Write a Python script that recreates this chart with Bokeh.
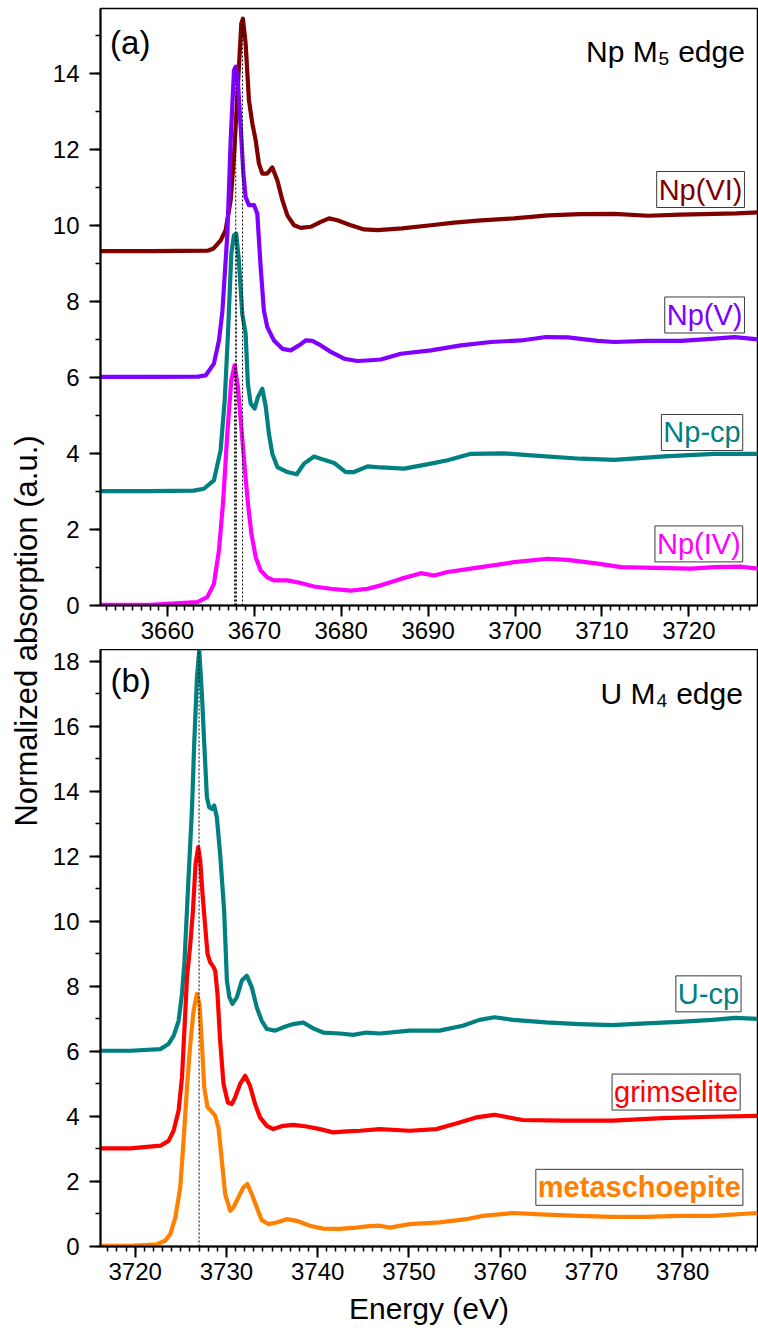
import math
from bokeh.plotting import figure
from bokeh.models import Range1d, Label, SingleIntervalTicker, FixedTicker
from bokeh.layouts import row, column
from bokeh.embed import file_html
from bokeh.resources import INLINE

FONT = "Liberation Sans"

# ---------------- Panel (a): Np M5 edge ----------------
np6_E = [3652.0, 3658.06, 3664.63, 3665.32, 3666.13, 3666.70, 3667.28, 3667.66, 3668.12, 3668.50,
         3668.69, 3669.0, 3669.38, 3669.77, 3670.15, 3670.53, 3670.92, 3671.49, 3672.07, 3672.65,
         3673.23, 3673.80, 3674.57, 3675.34, 3676.49, 3677.65, 3678.60, 3679.56, 3681.10, 3682.63,
         3684.17, 3687.0, 3690.32, 3693.0, 3696.08, 3699.88, 3703.80, 3707.5, 3711.40, 3715.32,
         3719.0, 3722.92, 3725.5, 3728.0]
np6_y = [9.32, 9.32, 9.33, 9.39, 9.6, 9.87, 10.66, 11.8, 13.7, 15.3,
         15.43, 14.78, 13.29, 12.68, 12.24, 11.62, 11.36, 11.36, 11.52, 11.18,
         10.66, 10.26, 10.0, 9.93, 9.96, 10.09, 10.18, 10.13, 10.0, 9.89,
         9.87, 9.92, 10.0, 10.07, 10.13, 10.18, 10.26, 10.29, 10.3, 10.25,
         10.28, 10.3, 10.31, 10.34]

np5_E = [3652.0, 3658.0, 3663.5, 3664.40, 3665.35, 3665.93, 3666.32, 3666.90, 3667.28, 3667.66,
         3667.86, 3668.12, 3668.43, 3668.74, 3669.0, 3669.38, 3669.96, 3670.34, 3670.73, 3671.10,
         3671.49, 3672.26, 3673.23, 3674.19, 3675.14, 3675.91, 3676.68, 3677.65, 3678.80, 3680.33,
         3681.86, 3683.41, 3684.56, 3686.86, 3690.32, 3693.77, 3697.23, 3700.69, 3703.57, 3706.07,
         3709.52, 3711.43, 3715.28, 3719.12, 3722.96, 3725.26, 3727.96]
np5_y = [6.01, 6.01, 6.02, 6.05, 6.36, 6.97, 7.72, 9.78, 12.24, 14.08,
         14.17, 13.73, 12.59, 11.36, 10.74, 10.53, 10.53, 10.31, 8.9, 7.76,
         7.32, 6.97, 6.75, 6.71, 6.84, 6.97, 6.96, 6.84, 6.67, 6.49,
         6.43, 6.45, 6.47, 6.62, 6.71, 6.84, 6.93, 6.97, 7.06, 7.05,
         6.96, 6.93, 6.96, 6.96, 7.02, 7.06, 7.0]

npcp_E = [3652.0, 3658.0, 3663.0, 3664.20, 3665.35, 3666.12, 3666.59, 3666.97, 3667.35, 3667.66,
          3667.92, 3668.22, 3668.61, 3669.0, 3669.26, 3669.58, 3670.04, 3670.41, 3670.92, 3671.31,
          3671.68, 3672.07, 3672.65, 3673.80, 3674.88, 3675.72, 3676.87, 3678.02, 3679.18, 3680.52,
          3681.48, 3683.03, 3684.56, 3687.24, 3690.32, 3692.24, 3694.93, 3698.76, 3701.84, 3707.60,
          3711.44, 3717.19, 3722.96, 3727.96]
npcp_y = [3.01, 3.01, 3.02, 3.07, 3.29, 4.08, 5.39, 7.15, 9.25, 9.74,
          9.78, 9.08, 7.67, 7.15, 5.83, 5.31, 5.18, 5.48, 5.7, 5.24,
          4.52, 3.99, 3.64, 3.51, 3.45, 3.73, 3.92, 3.83, 3.75, 3.51,
          3.51, 3.66, 3.63, 3.6, 3.73, 3.82, 3.99, 4.0, 3.95, 3.86,
          3.83, 3.92, 3.99, 3.99]

np4_E = [3652.0, 3658.0, 3663.44, 3664.59, 3665.35, 3665.93, 3666.42, 3666.89, 3667.35, 3667.73,
         3668.11, 3668.50, 3668.89, 3669.27, 3669.66, 3670.16, 3670.73, 3671.50, 3672.26, 3673.80,
         3675.34, 3676.87, 3678.80, 3681.10, 3683.03, 3684.56, 3686.86, 3689.17, 3690.70, 3692.24,
         3696.08, 3699.90, 3703.75, 3706.06, 3709.52, 3712.21, 3716.04, 3720.27, 3722.96, 3726.03,
         3727.96]
np4_y = [0.02, 0.02, 0.09, 0.22, 0.57, 1.45, 2.76, 4.52, 5.92, 6.32,
         5.75, 4.69, 3.64, 2.68, 1.89, 1.27, 0.92, 0.74, 0.66, 0.66,
         0.59, 0.5, 0.44, 0.39, 0.44, 0.53, 0.7, 0.85, 0.79, 0.88,
         1.01, 1.14, 1.23, 1.2, 1.1, 1.01, 0.99, 0.97, 1.01, 1.02,
         0.97]

np_peak_E = [3667.73, 3667.86, 3667.92, 3668.65]
np_peak_y = [6.32, 14.17, 9.78, 15.43]

# ---------------- Panel (b): U M4 edge ----------------
ucp_E = [3716.0, 3719.48, 3722.76, 3723.66, 3724.21, 3724.76, 3725.13, 3725.41, 3725.85, 3726.22,
         3726.47, 3726.77, 3727.02, 3727.31, 3727.57, 3727.86, 3728.11, 3728.41, 3728.66, 3728.95,
         3729.31, 3729.75, 3730.05, 3730.33, 3730.66, 3731.14, 3731.69, 3732.23, 3732.78, 3733.33,
         3733.87, 3734.42, 3735.33, 3736.23, 3737.33, 3738.42, 3739.51, 3740.60, 3742.43, 3743.88,
         3745.35, 3746.80, 3750.08, 3753.36, 3755.91, 3757.73, 3759.37, 3761.37, 3765.02, 3768.66,
         3772.30, 3775.95, 3779.59, 3783.23, 3785.79, 3788.2]
ucp_y = [6.02, 6.02, 6.07, 6.23, 6.48, 6.94, 7.77, 8.79, 11.35, 13.41,
         15.46, 17.5, 18.33, 17.0, 15.46, 13.82, 13.51, 13.46, 13.56, 13.2,
         12.07, 10.33, 8.18, 7.66, 7.46, 7.66, 8.18, 8.33, 7.97, 7.35,
         6.94, 6.69, 6.64, 6.74, 6.84, 6.89, 6.71, 6.58, 6.55, 6.51,
         6.58, 6.55, 6.64, 6.64, 6.79, 6.97, 7.05, 6.97, 6.89, 6.84,
         6.81, 6.86, 6.91, 6.97, 7.03, 7.0]

grim_E = [3716.0, 3719.5, 3722.76, 3723.66, 3724.21, 3724.76, 3725.13, 3725.41, 3725.68, 3726.04,
          3726.33, 3726.62, 3726.91, 3727.13, 3727.38, 3727.68, 3727.93, 3728.22, 3728.58, 3728.77,
          3729.02, 3729.31, 3729.68, 3730.16, 3730.59, 3730.95, 3731.50, 3732.05, 3732.59, 3733.14,
          3733.69, 3734.42, 3735.14, 3736.23, 3737.33, 3738.79, 3740.24, 3741.70, 3743.16, 3744.62,
          3746.80, 3750.08, 3753.0, 3755.18, 3757.37, 3759.37, 3762.46, 3766.83, 3772.30, 3777.76,
          3783.23, 3788.2]
grim_y = [3.02, 3.02, 3.1, 3.25, 3.56, 4.18, 5.2, 6.74, 8.28, 9.3,
          10.33, 11.77, 12.28, 11.87, 10.84, 9.82, 9.0, 8.74, 8.6, 8.48,
          7.77, 6.33, 5.0, 4.43, 4.38, 4.58, 5.0, 5.25, 4.94, 4.38,
          3.97, 3.71, 3.61, 3.71, 3.74, 3.69, 3.61, 3.51, 3.54, 3.56,
          3.61, 3.56, 3.61, 3.78, 3.97, 4.05, 3.89, 3.87, 3.87, 3.95,
          3.99, 4.02]

meta_E = [3716.0, 3719.5, 3722.40, 3723.30, 3723.85, 3724.40, 3724.94, 3725.30, 3725.68, 3726.04,
          3726.40, 3726.77, 3727.05, 3727.31, 3727.57, 3727.93, 3728.30, 3728.77, 3729.13, 3729.50,
          3729.86, 3730.41, 3730.77, 3731.31, 3731.86, 3732.30, 3732.78, 3733.33, 3733.87, 3734.59,
          3735.51, 3736.60, 3737.70, 3739.15, 3740.60, 3742.43, 3743.88, 3745.35, 3746.80, 3747.89,
          3750.08, 3753.36, 3756.28, 3758.09, 3761.37, 3765.02, 3768.66, 3772.30, 3775.95, 3779.59,
          3783.23, 3788.2]
meta_y = [0.02, 0.02, 0.07, 0.18, 0.38, 0.89, 1.82, 3.25, 4.89, 6.23,
          7.25, 7.77, 7.46, 6.23, 4.89, 4.28, 4.18, 4.02, 3.66, 2.64,
          1.61, 1.1, 1.2, 1.51, 1.82, 1.92, 1.61, 1.2, 0.81, 0.69,
          0.74, 0.84, 0.79, 0.64, 0.55, 0.54, 0.57, 0.62, 0.64, 0.58,
          0.69, 0.74, 0.84, 0.94, 1.03, 0.98, 0.94, 0.91, 0.91, 0.94,
          0.94, 1.03]

u_peak_E = [3727.0]
u_peak_y = [18.4]

X_TICK_STEP = 10
Y_TICK_STEP = 2
LW = 4.2


def style(p):
    p.xaxis.ticker = SingleIntervalTicker(interval=X_TICK_STEP, num_minor_ticks=10)
    p.yaxis.ticker = SingleIntervalTicker(interval=Y_TICK_STEP, num_minor_ticks=2)
    for ax in p.axis:
        ax.axis_line_width = 2
        ax.axis_line_color = "black"
        ax.major_tick_line_width = 2
        ax.minor_tick_line_width = 1.5
        ax.major_tick_line_color = "black"
        ax.minor_tick_line_color = "black"
        ax.major_tick_out = 11
        ax.major_tick_in = 0
        ax.minor_tick_out = 5
        ax.minor_tick_in = 0
        ax.major_label_text_font = FONT
        ax.major_label_text_font_size = "24px"
        ax.major_label_text_color = "black"
    p.xaxis.major_label_standoff = 5
    p.yaxis.major_label_standoff = 10
    p.xgrid.visible = False
    p.ygrid.visible = False
    p.outline_line_color = "black"
    p.outline_line_width = 1.5
    p.background_fill_color = "white"
    p.border_fill_color = "white"


def tag(p, x, y, text, color, bold=False):
    p.add_layout(Label(x=x, y=y, text=text, text_align="right", text_baseline="middle",
                       text_font=FONT, text_font_size="29px", text_color=color,
                       text_font_style="bold" if bold else "normal",
                       border_line_color="#3a3a3a", border_line_width=1,
                       background_fill_color="white", padding=2))


def plain(p, x, y, text, size, align="left", baseline="alphabetic"):
    p.add_layout(Label(x=x, y=y, text=text, text_align=align, text_baseline=baseline,
                       text_font=FONT, text_font_size=size, text_color="black"))


# ---- figure (a)
pa = figure(width=710, height=649, x_range=Range1d(3652.3, 3727.9), y_range=Range1d(0, 15.7),
            toolbar_location=None, output_backend="svg",
            min_border_left=52, min_border_right=1, min_border_top=8, min_border_bottom=44)
style(pa)
pa.line(np6_E, np6_y, line_color="#800000", line_width=LW, line_join="round")
pa.line(np5_E, np5_y, line_color="#8000FF", line_width=LW, line_join="round")
pa.line(npcp_E, npcp_y, line_color="#008080", line_width=LW, line_join="round")
pa.line(np4_E, np4_y, line_color="#FF00FF", line_width=LW, line_join="round")
pa.segment(x0=np_peak_E, y0=[0] * len(np_peak_E), x1=np_peak_E, y1=np_peak_y,
           line_color="black", line_width=1, line_dash="2 2")
tag(pa, 3726.4, 10.94, "Np(VI)", "#800000")
tag(pa, 3726.4, 7.64, "Np(V)", "#8000FF")
tag(pa, 3726.2, 4.55, "Np-cp", "#008080")
tag(pa, 3726.2, 1.62, "Np(IV)", "#FF00FF")
plain(pa, 3653.4, 14.8, "(a)", "33px", baseline="middle")
plain(pa, 3726.45, 14.56, "Np M\u2085 edge", "30px", align="right")

# ---- figure (b)
pb = figure(width=710, height=684, x_range=Range1d(3716.2, 3788.2), y_range=Range1d(0, 18.36),
            toolbar_location=None, output_backend="svg",
            min_border_left=52, min_border_right=1, min_border_top=0, min_border_bottom=87)
style(pb)
pb.xaxis.axis_label = "Energy (eV)"
pb.xaxis.axis_label_text_font = FONT
pb.xaxis.axis_label_text_font_size = "30px"
pb.xaxis.axis_label_text_font_style = "normal"
pb.xaxis.axis_label_text_color = "black"
pb.xaxis.axis_label_standoff = 9
pb.line(ucp_E, ucp_y, line_color="#008080", line_width=LW, line_join="round")
pb.line(grim_E, grim_y, line_color="#FF0000", line_width=LW, line_join="round")
pb.line(meta_E, meta_y, line_color="#FF8000", line_width=LW, line_join="round")
pb.segment(x0=u_peak_E, y0=[0] * len(u_peak_E), x1=u_peak_E, y1=u_peak_y,
           line_color="black", line_width=1, line_dash="2 2")
tag(pb, 3786.4, 7.77, "U-cp", "#008080")
tag(pb, 3786.3, 4.75, "grimselite", "#FF0000")
tag(pb, 3786.6, 1.82, "metaschoepite", "#FF8000", bold=True)
plain(pb, 3717.3, 17.4, "(b)", "33px", baseline="middle")
plain(pb, 3786.6, 17.0, "U M\u2084 edge", "30px", align="right")

# ---- shared y-axis title (as a y-axis label of a narrow, empty figure)
pt = figure(width=48, height=1333, x_range=Range1d(0, 1), y_range=Range1d(0, 1),
            toolbar_location=None, output_backend="svg", x_axis_type=None,
            min_border_left=47, min_border_right=0, min_border_top=0, min_border_bottom=72)
pt.outline_line_color = None
pt.xgrid.visible = False
pt.ygrid.visible = False
pt.yaxis.ticker = FixedTicker(ticks=[])
pt.yaxis.axis_line_color = None
pt.yaxis.major_tick_line_color = None
pt.yaxis.minor_tick_line_color = None
pt.yaxis.axis_label = "Normalized absorption (a.u.)"
pt.yaxis.axis_label_text_font = FONT
pt.yaxis.axis_label_text_font_size = "31px"
pt.yaxis.axis_label_text_font_style = "normal"
pt.yaxis.axis_label_text_color = "black"
pt.yaxis.axis_label_standoff = 4

layout = row(pt, column(pa, pb))
open("out.html", "w").write(file_html(layout, INLINE))
